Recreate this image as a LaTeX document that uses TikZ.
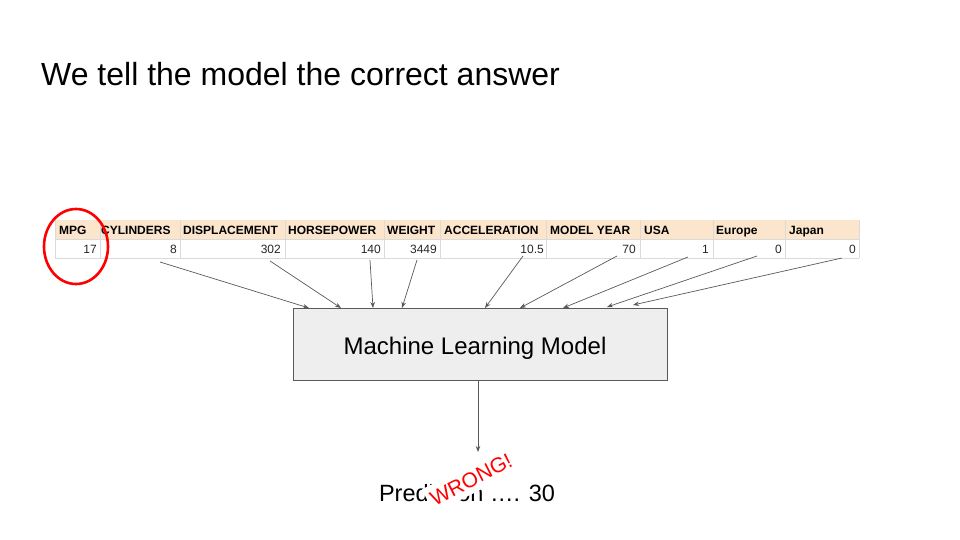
\documentclass[tikz,border=0pt]{standalone}
\usepackage{fontspec}
\setmainfont{Liberation Sans}
\usetikzlibrary{arrows.meta}
\definecolor{hdr}{HTML}{FCE5CD}
\definecolor{grid}{HTML}{DADADA}
\definecolor{boxfill}{HTML}{EEEEEE}
\definecolor{edge}{HTML}{595959}
\tikzset{
  hcell/.style={anchor=base west, font=\bfseries\fontsize{12}{14}\selectfont, inner sep=0pt},
  vcell/.style={anchor=base east, font=\fontsize{12}{14}\selectfont, text=black!85, inner sep=0pt},
  feed/.style={draw=edge, line width=0.7pt, -{Stealth[length=6pt,width=4.5pt]}},
}
\begin{document}
\begin{tikzpicture}[x=1pt,y=-1pt]
\useasboundingbox (0,0) rectangle (960,540);

% title
\node[anchor=base west, font=\fontsize{32}{36}\selectfont, inner sep=0pt] (title) at (41,86) {We tell the model the correct answer};

% table rows
\fill[hdr] (55,220) rectangle (859,239);
\draw[grid, line width=0.6pt] (55,239) -- (859,239) (55,258) -- (859,258);
\foreach \x in {55,100,180,285,384,440,546,640,713,785,859}
  \draw[grid, line width=0.6pt] (\x,220) -- (\x,258);

% header labels
\node[hcell] (h1) at (59,234.5) {MPG};
\node[hcell] (h2) at (101,234.5) {CYLINDERS};
\node[hcell] (h3) at (183,234.5) {DISPLACEMENT};
\node[hcell] (h4) at (288,234.5) {HORSEPOWER};
\node[hcell] (h5) at (387,234.5) {WEIGHT};
\node[hcell] (h6) at (444,234.5) {ACCELERATION};
\node[hcell] (h7) at (550,234.5) {MODEL YEAR};
\node[hcell] (h8) at (644,234.5) {USA};
\node[hcell] (h9) at (716,234.5) {Europe};
\node[hcell] (h10) at (789,234.5) {Japan};

% values
\node[vcell] (v1) at (97,253.5) {17};
\node[vcell] (v2) at (177,253.5) {8};
\node[vcell] (v3) at (281,253.5) {302};
\node[vcell] (v4) at (381,253.5) {140};
\node[vcell] (v5) at (437,253.5) {3449};
\node[vcell] (v6) at (544,253.5) {10.5};
\node[vcell] (v7) at (636,253.5) {70};
\node[vcell] (v8) at (709,253.5) {1};
\node[vcell] (v9) at (782,253.5) {0};
\node[vcell] (v10) at (856,253.5) {0};

% highlight of the label column
\draw[red, line width=2.6pt] (76,246.5) ellipse [x radius=32, y radius=37.5];

% model box
\node[draw=edge, fill=boxfill, line width=0.7pt, minimum width=374pt, minimum height=72pt] (model) at (480,344) {};
\node[font=\fontsize{24}{28}\selectfont, inner sep=0pt] (mlabel) at (475,348) {Machine Learning Model};

% feature arrows: start points below the values, end points on the box top
\coordinate (s2) at (160,262);  \coordinate (e2) at (309,308);
\coordinate (s3) at (270,261);  \coordinate (e3) at (341,308);
\coordinate (s4) at (370,260);  \coordinate (e4) at (373,308);
\coordinate (s5) at (417,260);  \coordinate (e5) at (402,308);
\coordinate (s6) at (523,256);  \coordinate (e6) at (485,308);
\coordinate (s7) at (617,256);  \coordinate (e7) at (520,308);
\coordinate (s8) at (688,257);  \coordinate (e8) at (563,308);
\coordinate (s9) at (757,256);  \coordinate (e9) at (607,307);
\coordinate (s10) at (842,258); \coordinate (e10) at (633,305);
\foreach \i in {2,...,10}
  \draw[feed] (s\i) -- (e\i);

% output
\coordinate (out) at (478,452);
\draw[feed] (model.south -| out) -- (out);
\node[font=\fontsize{23.5}{28}\selectfont, anchor=base, inner sep=0pt] (pred) at (467,501) {Prediction …. 30};
\node[fill=white, text=red, rotate=27, inner xsep=4pt, inner ysep=6pt, font=\fontsize{21}{25}\selectfont] (wrong) at (471,479.5) {WRONG!};
\end{tikzpicture}
\end{document}
